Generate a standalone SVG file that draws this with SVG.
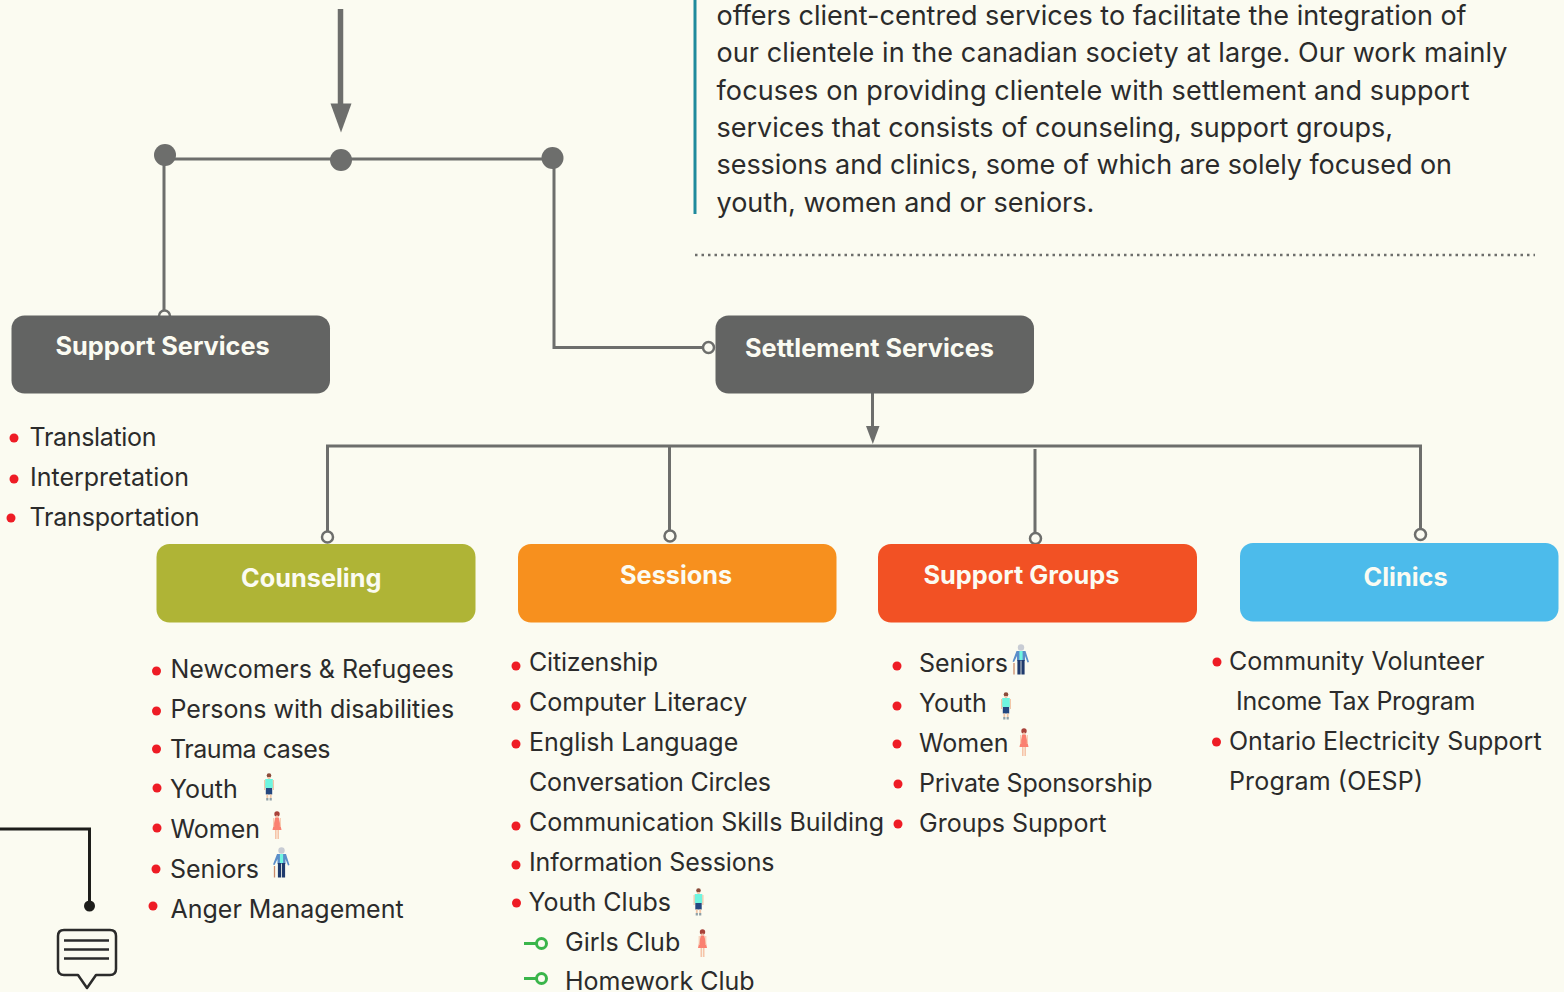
<svg xmlns="http://www.w3.org/2000/svg" width="1564" height="992" viewBox="0 0 1564 992">
<style>
text{font-family:"Inter","Roboto","Liberation Sans",sans-serif;fill:#2b2b2b}
.b{font-size:27px}
.l{font-size:25px}
.h{font-size:25.3px;font-weight:700;fill:#fbfbf2}
.c{fill:none;stroke:#6d6e6c;stroke-width:3}
.o{fill:#fbfbf2;stroke:#6d6e6c;stroke-width:2.5}
.d{fill:#6d6e6c}
.r{fill:#ee1c25}
.g{fill:none;stroke:#39b54a;stroke-width:3}
</style>
<defs>
<g id="youth"><circle cx="0" cy="2.500" r="2.300" fill="#8a4b3a"/><rect x="-1.200" y="4" width="2.400" height="2.500" fill="#f2c7a8"/><path d="M-3.800 6h7.600l.3 9h-8.200z" fill="#6ff5e0"/><rect x="-3.200" y="15" width="6.400" height="6.500" fill="#24477f"/><rect x="-5" y="7" width="1.200" height="10" fill="#f2c7a8"/><rect x="3.800" y="7" width="1.200" height="10" fill="#f2c7a8"/><rect x="-2.600" y="21.500" width="1.800" height="3.500" fill="#f2c7a8"/><rect x="0.800" y="21.500" width="1.800" height="3.500" fill="#f2c7a8"/><rect x="-2.800" y="25" width="2.200" height="2.500" fill="#8fa0a8"/><rect x="0.600" y="25" width="2.200" height="2.500" fill="#8fa0a8"/></g>
<g id="women"><circle cx="0" cy="3" r="2.700" fill="#a8423a"/><rect x="-1" y="4.500" width="2" height="2" fill="#f5c4a8"/><path d="M-1.800 6.500h3.600l2.700 12.500h-9z" fill="#fa8070"/><rect x="-3.800" y="7" width="1" height="9" fill="#f5c4a8"/><rect x="2.800" y="7" width="1" height="9" fill="#f5c4a8"/><rect x="-2" y="19" width="1.600" height="9" fill="#f5c4a8"/><rect x="0.400" y="19" width="1.600" height="9" fill="#f5c4a8"/></g>
<g id="senior"><circle cx="0" cy="3.500" r="3.200" fill="#c8ccd4"/><path d="M-4.500 7h9l3.500 11-1.500.6-2.500-6.600v5h-8v-5l-3 6-1.500-.6z" fill="#5b8ec9"/><rect x="-1.600" y="7" width="3.200" height="9" fill="#6ff5e0"/><rect x="-3.600" y="16" width="3.200" height="14.500" fill="#1f3a6d"/><rect x="0.400" y="16" width="3.200" height="14.500" fill="#1f3a6d"/><path d="M-7 19V30.500" stroke="#c98a6a" stroke-width="1.300" fill="none"/></g>
</defs>
<rect width="1564" height="992" fill="#fbfbf1"/>
<g id="connectors">
<path d="M340.500 9V106" fill="none" stroke="#6d6e6c" stroke-width="5.500"/>
<path d="M330.500 103.500h21l-10.500 29z" class="d"/>
<path class="c" d="M165 159H553M164 155V312M554 158V347.500H703"/>
<circle class="d" cx="165" cy="155" r="11"/><circle class="d" cx="341" cy="160" r="11"/><circle class="d" cx="552.500" cy="158" r="11"/>
<circle class="o" cx="164.500" cy="316" r="5.500"/>
<circle class="o" cx="708.500" cy="347.500" r="5.500"/>
<path class="c" d="M872.500 393V428M327.500 532V446H1420.500V529M669.500 446V530M1035 449V533"/>
<path class="d" d="M866 426h13.500l-6.700 18z"/>
<circle class="o" cx="327.500" cy="537" r="5.500"/><circle class="o" cx="670" cy="536" r="5.500"/><circle class="o" cx="1035.500" cy="538.500" r="5.500"/><circle class="o" cx="1420.500" cy="534.500" r="5.500"/>
<path d="M0 829H89.500V905" fill="none" stroke="#1d1d1b" stroke-width="3"/>
<circle cx="89.500" cy="906" r="5.500" fill="#1d1d1b"/>
</g>
<g id="intro">
<path d="M695 0V214" stroke="#1f8a9c" stroke-width="3" fill="none"/>
<text class="b" x="716.500" y="25">offers client-centred services to facilitate the integration of</text>
<text class="b" x="716.500" y="62" textLength="791">our clientele in the canadian society at large. Our work mainly</text>
<text class="b" x="716.500" y="100" textLength="753">focuses on providing clientele with settlement and support</text>
<text class="b" x="716.500" y="137">services that consists of counseling, support groups,</text>
<text class="b" x="716.500" y="174" textLength="735.500">sessions and clinics, some of which are solely focused on</text>
<text class="b" x="716.500" y="212">youth, women and or seniors.</text>
<path d="M695 255H1535" stroke="#6d6e6c" stroke-width="2.500" stroke-dasharray="2.500 4" fill="none"/>
</g>
<g id="support-services"><rect x="11.500" y="315.500" width="318.500" height="78" rx="13" fill="#636463"/><text class="h" x="55.500" y="355">Support Services</text></g>
<g id="settlement-services"><rect x="715.500" y="315.500" width="318.500" height="78" rx="13" fill="#636463"/><text class="h" x="745" y="357">Settlement Services</text></g>
<g id="counseling"><rect x="156.500" y="544" width="319" height="78.500" rx="13" fill="#afb436"/><text class="h" x="241" y="587">Counseling</text></g>
<g id="sessions"><rect x="518" y="544" width="318.500" height="78.500" rx="13" fill="#f7901e"/><text class="h" x="620" y="584">Sessions</text></g>
<g id="support-groups"><rect x="878" y="544" width="319" height="78.500" rx="13" fill="#f25124"/><text class="h" x="923.500" y="584">Support Groups</text></g>
<g id="clinics"><rect x="1240" y="543" width="318.500" height="78.500" rx="13" fill="#4cbbeb"/><text class="h" x="1363.500" y="586">Clinics</text></g>
<g id="support-list">
<circle class="r" cx="14" cy="438" r="4.500"/><text class="l" x="29.500" y="446" textLength="127">Translation</text>
<circle class="r" cx="14" cy="479" r="4.500"/><text class="l" x="30" y="486">Interpretation</text>
<circle class="r" cx="11" cy="518" r="4.500"/><text class="l" x="29.500" y="526" textLength="170">Transportation</text>
</g>
<g id="counseling-list">
<circle class="r" cx="156.500" cy="671" r="4.500"/><text class="l" x="170.500" y="678">Newcomers &amp; Refugees</text>
<circle class="r" cx="156.500" cy="711" r="4.500"/><text class="l" x="170.500" y="718">Persons with disabilities</text>
<circle class="r" cx="156.500" cy="749" r="4.500"/><text class="l" x="170" y="758" textLength="160.500">Trauma cases</text>
<circle class="r" cx="157" cy="788" r="4.500"/><text class="l" x="170" y="798">Youth</text><use href="#youth" x="269" y="773"/>
<circle class="r" cx="157" cy="828" r="4.500"/><text class="l" x="170.500" y="838">Women</text><use href="#women" x="277" y="811"/>
<circle class="r" cx="156" cy="869" r="4.500"/><text class="l" x="170" y="878">Seniors</text><use href="#senior" x="281.500" y="847"/>
<circle class="r" cx="153" cy="906" r="4.500"/><text class="l" x="170.500" y="918">Anger Management</text>
</g>
<g id="sessions-list">
<circle class="r" cx="516" cy="666" r="4.500"/><text class="l" x="529" y="671" textLength="129">Citizenship</text>
<circle class="r" cx="516" cy="706" r="4.500"/><text class="l" x="529" y="711">Computer Literacy</text>
<circle class="r" cx="516" cy="744" r="4.500"/><text class="l" x="529" y="751">English Language</text>
<text class="l" x="529" y="791" textLength="242">Conversation Circles</text>
<circle class="r" cx="516" cy="826" r="4.500"/><text class="l" x="529" y="831">Communication Skills Building</text>
<circle class="r" cx="516" cy="865" r="4.500"/><text class="l" x="529" y="871" textLength="245.500">Information Sessions</text>
<circle class="r" cx="516.500" cy="903" r="4.500"/><text class="l" x="528.500" y="911">Youth Clubs</text><use href="#youth" x="698.500" y="888"/>
<path class="g" d="M524 943.500H536"/><circle class="g" cx="541.500" cy="943.500" r="5"/><text class="l" x="565" y="951">Girls Club</text><use href="#women" x="702.500" y="929"/>
<path class="g" d="M524 978.500H536"/><circle class="g" cx="541.500" cy="978.500" r="5"/><text class="l" x="565" y="990">Homework Club</text>
</g>
<g id="groups-list">
<circle class="r" cx="897" cy="666" r="4.500"/><text class="l" x="919" y="672">Seniors</text><use href="#senior" x="1021" y="644"/>
<circle class="r" cx="897" cy="706" r="4.500"/><text class="l" x="919" y="712">Youth</text><use href="#youth" x="1006" y="692"/>
<circle class="r" cx="897" cy="744" r="4.500"/><text class="l" x="919" y="752">Women</text><use href="#women" x="1024" y="728"/>
<circle class="r" cx="898" cy="784" r="4.500"/><text class="l" x="919" y="792" textLength="233.500">Private Sponsorship</text>
<circle class="r" cx="898" cy="824" r="4.500"/><text class="l" x="919" y="832">Groups Support</text>
</g>
<g id="clinics-list">
<circle class="r" cx="1217" cy="662" r="4.500"/><text class="l" x="1229" y="670">Community Volunteer</text>
<text class="l" x="1236" y="710" textLength="239.500">Income Tax Program</text>
<circle class="r" cx="1216.500" cy="742" r="4.500"/><text class="l" x="1229" y="750">Ontario Electricity Support</text>
<text class="l" x="1229" y="790" textLength="194">Program (OESP)</text>
</g>
<g id="chat-icon">
<path d="M64 930H110Q116 930 116 936V969Q116 975 110 975H96L87 988L78 975H64Q58 975 58 969V936Q58 930 64 930Z" fill="none" stroke="#2b2b2b" stroke-width="2.500" stroke-linejoin="round"/>
<path d="M64 940.500H109M64 949.500H109M64 958.500H109" stroke="#2b2b2b" stroke-width="2.500" fill="none"/>
</g>
</svg>
